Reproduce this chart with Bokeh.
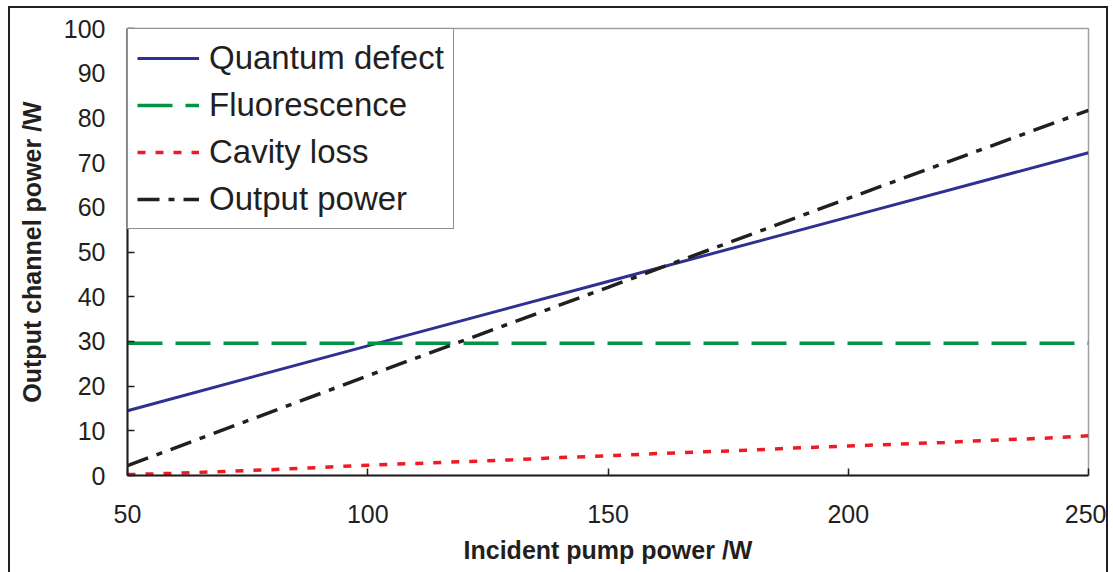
from bokeh.plotting import figure
from bokeh.models import FixedTicker, Legend, LegendItem, Range1d
from bokeh.embed import file_html
from bokeh.resources import INLINE

# ---- data ----
pump = [50, 100, 150, 200, 250]
quantum_defect = [14.5, 29.0, 43.4, 57.8, 72.2]
fluorescence = [29.6, 29.6, 29.6, 29.6, 29.6]
output_power = [2.2, 22.3, 42.1, 62.0, 81.7]

pump_fine = [50, 60, 70, 80, 90, 100, 110, 120, 130, 140, 150,
             160, 170, 180, 190, 200, 210, 220, 230, 240, 250]
cavity_loss = [0.2, 0.5, 0.9, 1.3, 1.8, 2.3, 2.7, 3.1, 3.5, 4.0, 4.4,
               4.9, 5.3, 5.7, 6.2, 6.6, 7.0, 7.4, 7.9, 8.3, 8.9]

x_ticks = [50, 100, 150, 200, 250]
y_ticks = [0, 10, 20, 30, 40, 50, 60, 70, 80, 90, 100]

labels = ["Quantum defect", "Fluorescence", "Cavity loss", "Output power"]

FONT = "Liberation Sans"
INK = "#231f20"

p = figure(width=1100, height=580, output_backend="svg", toolbar_location=None,
           x_range=Range1d(50, 250), y_range=Range1d(0, 100),
           min_border_left=117, min_border_right=22, min_border_top=20,
           min_border_bottom=113, margin=(6, 0, 0, 8),
           styles={"border": "2px solid #231f20", "box-sizing": "border-box"})

p.outline_line_color = "#a0a0a0"
p.outline_line_width = 1.5
p.xgrid.visible = False
p.ygrid.visible = False

r_q = p.line(pump, quantum_defect, line_color="#2e3192", line_width=3)
r_f = p.line(pump, fluorescence, line_color="#009444", line_width=3.5, line_dash="35 13")
r_c = p.line(pump_fine, cavity_loss, line_color="#ed1c24", line_width=3.5, line_dash="8 10")
r_o = p.line(pump, output_power, line_color=INK, line_width=3.5, line_dash="22 9 6 9")

for ax in (p.xaxis[0], p.yaxis[0]):
    ax.axis_line_color = INK
    ax.axis_line_width = 2
    ax.major_tick_line_color = INK
    ax.major_tick_line_width = 1.5
    ax.major_tick_in = 7
    ax.major_tick_out = 0
    ax.minor_tick_line_color = None
    ax.major_label_text_font = FONT
    ax.major_label_text_font_size = "25px"
    ax.major_label_text_color = INK
    ax.axis_label_text_font = FONT
    ax.axis_label_text_font_style = "bold"
    ax.axis_label_text_font_size = "25px"
    ax.axis_label_text_color = INK

p.xaxis[0].ticker = FixedTicker(ticks=x_ticks)
p.yaxis[0].ticker = FixedTicker(ticks=y_ticks)
p.xaxis[0].axis_label = "Incident pump power /W"
p.yaxis[0].axis_label = "Output channel power /W"
p.xaxis[0].major_label_standoff = 29
p.xaxis[0].axis_label_standoff = 10
p.yaxis[0].major_label_standoff = 22
p.yaxis[0].axis_label_standoff = 15

legend = Legend(items=[LegendItem(label=labels[0], renderers=[r_q]),
                       LegendItem(label=labels[1], renderers=[r_f]),
                       LegendItem(label=labels[2], renderers=[r_c]),
                       LegendItem(label=labels[3], renderers=[r_o])],
                location="top_left", margin=0, padding=9,
                spacing=7, label_height=40, glyph_height=40, glyph_width=62,
                label_standoff=10, border_line_color=INK, border_line_width=1.5,
                label_text_font=FONT, label_text_font_size="33px",
                label_text_color=INK, background_fill_alpha=1)
p.add_layout(legend)

open("out.html", "w").write(file_html(p, INLINE))
